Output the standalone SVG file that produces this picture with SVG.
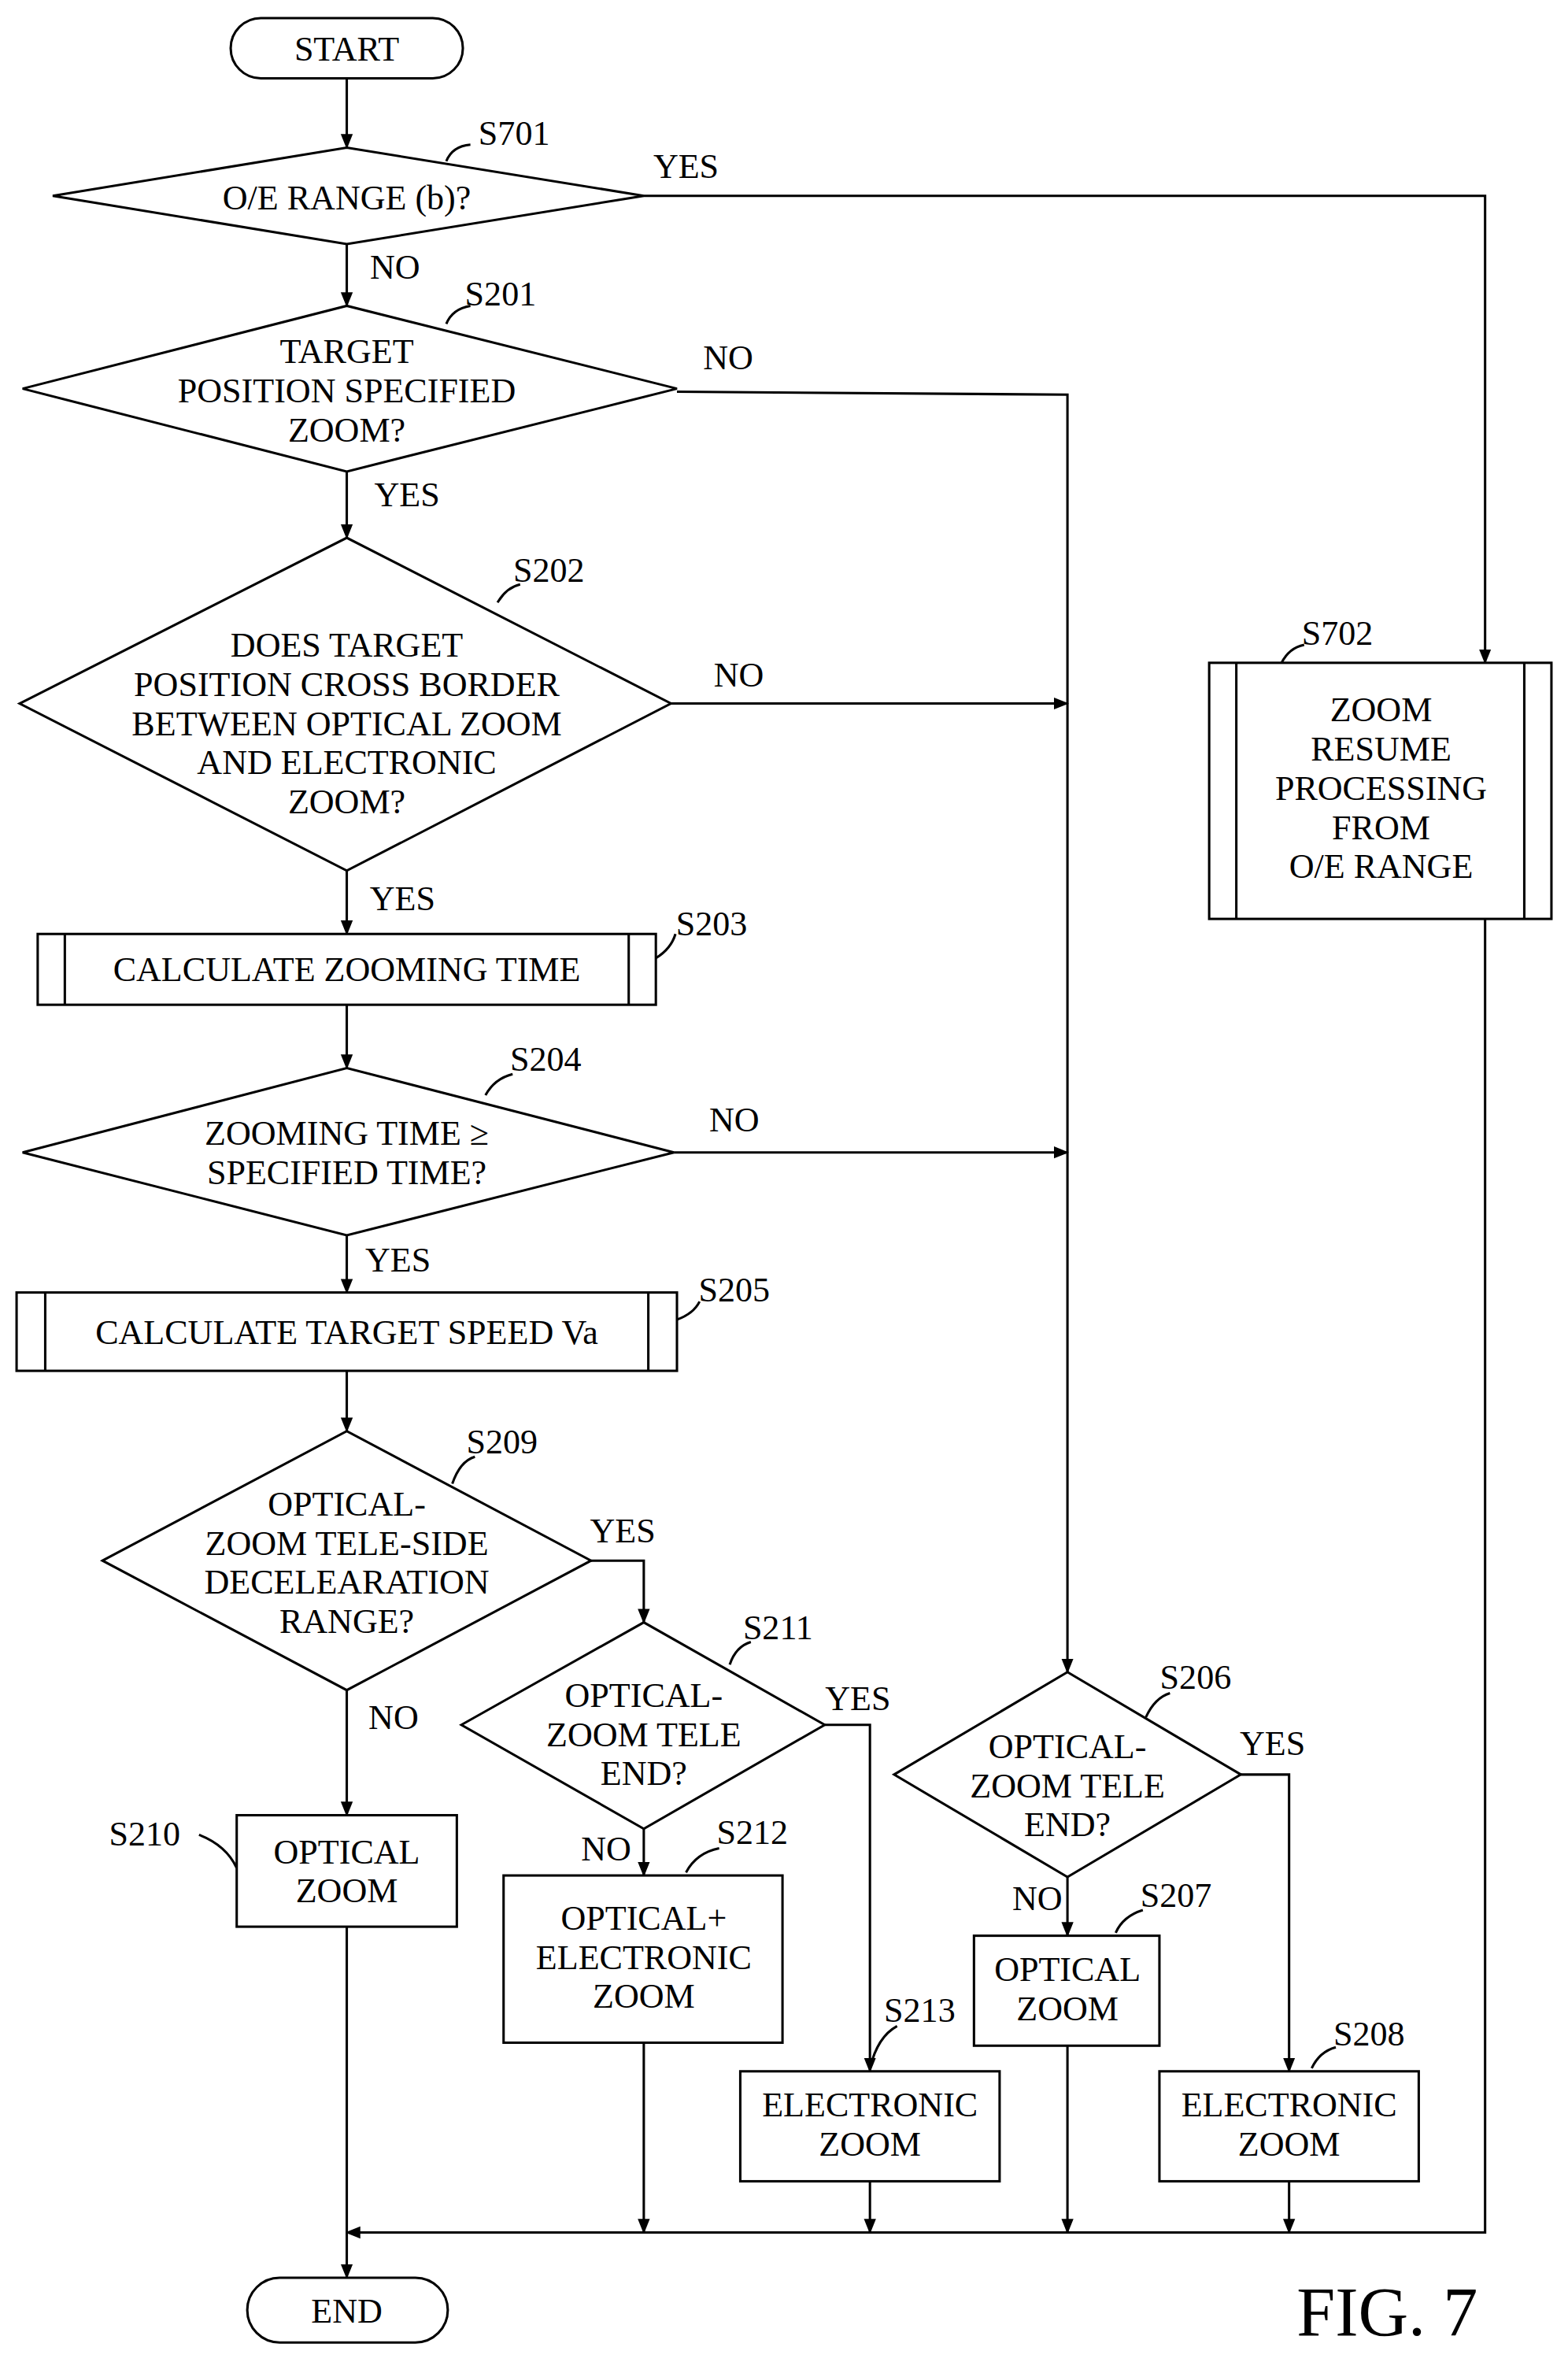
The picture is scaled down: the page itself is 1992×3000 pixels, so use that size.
<svg xmlns="http://www.w3.org/2000/svg" width="1992" height="3000" viewBox="0 0 1992 3000">
<defs>
<marker id="ah" markerWidth="10" markerHeight="10" refX="9" refY="5" orient="auto" markerUnits="userSpaceOnUse"><path d="M0,1 L10,5 L0,9 Z" fill="#000"/></marker>
<style>
.s{fill:#fff;stroke:#000;stroke-width:1.6}
.l{fill:none;stroke:#000;stroke-width:1.6}
.c{fill:none;stroke:#000;stroke-width:1.6;marker-end:url(#ah)}
text{font-family:"Liberation Serif","Times New Roman",serif;font-size:23px;fill:#000}
.m{text-anchor:middle}
</style>
</defs>
<rect width="1992" height="3000" fill="#fff"/>
<g transform="scale(1.9154,1.9133)">
<g id="connectors">
<path class="c" d="M230,52 V98"/>
<path class="c" d="M427,130 H985 V440"/>
<path class="c" d="M230,162 V203"/>
<path class="c" d="M449,260 L708,262 V1110"/>
<path class="c" d="M230,313 V357"/>
<path class="c" d="M445,467 H708"/>
<path class="c" d="M230,578 V620"/>
<path class="c" d="M230,667 V709"/>
<path class="c" d="M447,765 H708"/>
<path class="c" d="M230,820 V858"/>
<path class="c" d="M230,910 V950"/>
<path class="c" d="M392,1036 H427 V1077"/>
<path class="c" d="M230,1122 V1205"/>
<path class="c" d="M547,1145 H577 V1375"/>
<path class="c" d="M427,1214 V1245"/>
<path class="c" d="M823,1178 H855 V1375"/>
<path class="c" d="M708,1246 V1285"/>
<path class="c" d="M985,610 V1482 H230"/>
<path class="c" d="M230,1279 V1512"/>
<path class="c" d="M427,1356 V1482"/>
<path class="c" d="M577,1448 V1482"/>
<path class="c" d="M708,1358 V1482"/>
<path class="c" d="M855,1448 V1482"/>
<text x="455" y="118" class="m">YES</text>
<text x="262" y="185" class="m">NO</text>
<text x="483" y="245" class="m">NO</text>
<text x="270" y="336" class="m">YES</text>
<text x="490" y="456" class="m">NO</text>
<text x="267" y="604" class="m">YES</text>
<text x="487" y="751" class="m">NO</text>
<text x="264" y="844" class="m">YES</text>
<text x="413" y="1024" class="m">YES</text>
<text x="261" y="1148" class="m">NO</text>
<text x="569" y="1135" class="m">YES</text>
<text x="402" y="1235" class="m">NO</text>
<text x="844" y="1165" class="m">YES</text>
<text x="688" y="1268" class="m">NO</text>
</g>
<g id="start"><rect class="s" x="153" y="12" width="154" height="40" rx="20"/><text x="230" y="40" class="m">START</text></g>
<g id="s701"><path class="s" d="M35,130 L230,98 L427,130 L230,162 Z"/><text x="230" y="139" class="m">O/E RANGE (b)?</text><path class="l" d="M296,107 Q300,97 312,96"/><text x="341" y="96" class="m">S701</text></g>
<g id="s201"><path class="s" d="M15,258 L230,203 L449,258 L230,313 Z"/><text x="230" y="241" class="m">TARGET</text><text x="230" y="267" class="m">POSITION SPECIFIED</text><text x="230" y="293" class="m">ZOOM?</text><path class="l" d="M296,215 Q300,205 312,203"/><text x="332" y="203" class="m">S201</text></g>
<g id="s202"><path class="s" d="M13,467 L230,357 L445,467 L230,578 Z"/><text x="230" y="436" class="m">DOES TARGET</text><text x="230" y="462" class="m">POSITION CROSS BORDER</text><text x="230" y="488" class="m">BETWEEN OPTICAL ZOOM</text><text x="230" y="514" class="m">AND ELECTRONIC</text><text x="230" y="540" class="m">ZOOM?</text><path class="l" d="M330,400 Q336,390 345,388"/><text x="364" y="386" class="m">S202</text></g>
<g id="s203"><rect class="s" x="25" y="620" width="410" height="47"/><path class="l" d="M43,620 V667 M417,620 V667"/><text x="230" y="651" class="m">CALCULATE ZOOMING TIME</text><path class="l" d="M435,636 Q445,630 448,620"/><text x="472" y="621" class="m">S203</text></g>
<g id="s204"><path class="s" d="M15,765 L230,709 L447,765 L230,820 Z"/><text x="230" y="760" class="m">ZOOMING TIME ≥</text><text x="230" y="786" class="m">SPECIFIED TIME?</text><path class="l" d="M322,727 Q328,716 340,713"/><text x="362" y="711" class="m">S204</text></g>
<g id="s205"><rect class="s" x="11" y="858" width="438" height="52"/><path class="l" d="M30,858 V910 M430,858 V910"/><text x="230" y="892" class="m">CALCULATE TARGET SPEED Va</text><path class="l" d="M449,876 Q460,872 464,864"/><text x="487" y="864" class="m">S205</text></g>
<g id="s209"><path class="s" d="M68,1036 L230,950 L392,1036 L230,1122 Z"/><text x="230" y="1006" class="m">OPTICAL-</text><text x="230" y="1032" class="m">ZOOM TELE-SIDE</text><text x="230" y="1058" class="m">DECELEARATION</text><text x="230" y="1084" class="m">RANGE?</text><path class="l" d="M300,985 Q305,970 315,967"/><text x="333" y="965" class="m">S209</text></g>
<g id="s210"><rect class="s" x="157" y="1205" width="146" height="74"/><text x="230" y="1237" class="m">OPTICAL</text><text x="230" y="1263" class="m">ZOOM</text><path class="l" d="M157,1240 Q150,1225 132,1218"/><text x="96" y="1225" class="m">S210</text></g>
<g id="s211"><path class="s" d="M306,1145 L427,1077 L547,1145 L427,1214 Z"/><text x="427" y="1133" class="m">OPTICAL-</text><text x="427" y="1159" class="m">ZOOM TELE</text><text x="427" y="1185" class="m">END?</text><path class="l" d="M484,1105 Q488,1093 498,1090"/><text x="516" y="1088" class="m">S211</text></g>
<g id="s212"><rect class="s" x="334" y="1245" width="185" height="111"/><text x="427" y="1281" class="m">OPTICAL+</text><text x="427" y="1307" class="m">ELECTRONIC</text><text x="427" y="1333" class="m">ZOOM</text><path class="l" d="M455,1243 Q462,1230 477,1227"/><text x="499" y="1224" class="m">S212</text></g>
<g id="s213"><rect class="s" x="491" y="1375" width="172" height="73"/><text x="577" y="1405" class="m">ELECTRONIC</text><text x="577" y="1431" class="m">ZOOM</text><path class="l" d="M577,1373 Q582,1352 595,1345"/><text x="610" y="1342" class="m">S213</text></g>
<g id="s206"><path class="s" d="M593,1178 L708,1110 L823,1178 L708,1246 Z"/><text x="708" y="1167" class="m">OPTICAL-</text><text x="708" y="1193" class="m">ZOOM TELE</text><text x="708" y="1219" class="m">END?</text><path class="l" d="M760,1140 Q766,1127 776,1124"/><text x="793" y="1121" class="m">S206</text></g>
<g id="s207"><rect class="s" x="646" y="1285" width="123" height="73"/><text x="708" y="1315" class="m">OPTICAL</text><text x="708" y="1341" class="m">ZOOM</text><path class="l" d="M740,1283 Q745,1272 758,1268"/><text x="780" y="1266" class="m">S207</text></g>
<g id="s208"><rect class="s" x="769" y="1375" width="172" height="73"/><text x="855" y="1405" class="m">ELECTRONIC</text><text x="855" y="1431" class="m">ZOOM</text><path class="l" d="M870,1373 Q875,1362 886,1359"/><text x="908" y="1358" class="m">S208</text></g>
<g id="s702"><rect class="s" x="802" y="440" width="227" height="170"/><path class="l" d="M820,440 V610 M1011,440 V610"/><text x="916" y="479" class="m">ZOOM</text><text x="916" y="505" class="m">RESUME</text><text x="916" y="531" class="m">PROCESSING</text><text x="916" y="557" class="m">FROM</text><text x="916" y="583" class="m">O/E RANGE</text><path class="l" d="M850,440 Q855,430 865,428"/><text x="887" y="428" class="m">S702</text></g>
<g id="end"><rect class="s" x="164" y="1512" width="133" height="43" rx="21.5"/><text x="230" y="1542" class="m">END</text></g>
<text x="920" y="1550" class="m" style="font-size:46px">FIG. 7</text>
</g>
</svg>
